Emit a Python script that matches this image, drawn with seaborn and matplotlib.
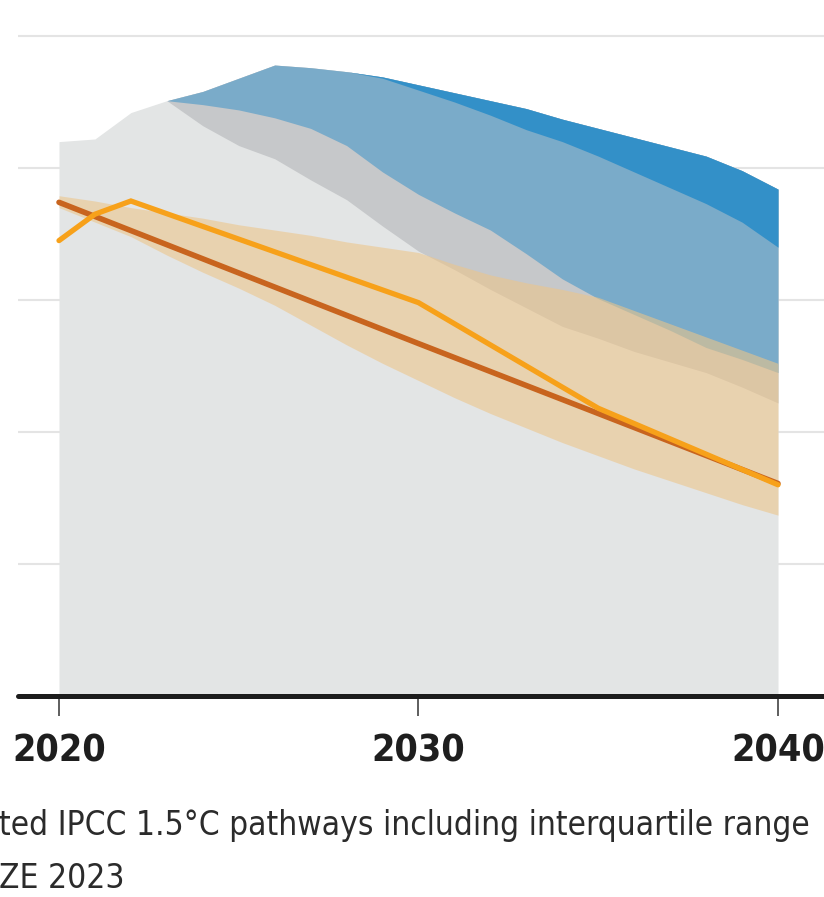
import matplotlib
matplotlib.use("Agg")
import matplotlib.pyplot as plt
from matplotlib import font_manager
from matplotlib.font_manager import FontProperties
import pandas as pd
import seaborn as sns

# --- data (GtCO2) ---------------------------------------------------------
years = list(range(2020, 2041))
envelope_top = [42.0, 42.2, 44.2, 45.1, 45.8, 46.8, 47.8, 47.6, 47.3, 46.9, 46.3,
                45.7, 45.1, 44.5, 43.7, 43.0, 42.3, 41.6, 40.9, 39.8, 38.4]

pathway_years = list(range(2023, 2041))
blue_low = [45.1, 44.8, 44.4, 43.8, 43.0, 41.7, 39.7, 38.0, 36.6, 35.3, 33.5,
            31.6, 30.1, 28.9, 27.7, 26.4, 25.5, 24.5]
gray_low = [45.1, 43.2, 41.7, 40.7, 39.1, 37.6, 35.6, 33.7, 32.3, 30.8, 29.4,
            28.0, 27.1, 26.1, 25.3, 24.5, 23.4, 22.2]

dark_years = list(range(2028, 2041))
dark_low = [47.3, 46.8, 45.9, 45.0, 44.0, 42.9, 42.0, 40.9, 39.7, 38.5, 37.3,
            35.9, 34.0]

iqr_top = [37.9, 37.5, 37.0, 36.6, 36.2, 35.7, 35.3, 34.9, 34.4, 34.0, 33.6,
           32.7, 31.9, 31.3, 30.8, 30.2, 29.2, 28.2, 27.2, 26.2, 25.2]
iqr_bottom = [37.0, 35.9, 34.8, 33.4, 32.1, 30.9, 29.6, 28.1, 26.6, 25.2, 23.9,
              22.6, 21.4, 20.3, 19.2, 18.2, 17.2, 16.3, 15.4, 14.5, 13.7]

median_years = [2020, 2030, 2040]
median_vals = [37.4, 26.7, 16.1]

nze_years = [2020, 2021, 2022, 2030, 2035, 2040]
nze_vals = [34.5, 36.5, 37.5, 29.8, 21.8, 16.0]

tick_years = [2020, 2030, 2040]
tick_labels = ["2020", "2030", "2040"]
grid_levels = [10, 20, 30, 40, 50]

caption_1 = "ted IPCC 1.5°C pathways including interquartile range"
caption_2 = "ZE 2023"

# --- style ----------------------------------------------------------------
sns.set_theme(style="white")
plt.rcParams["font.family"] = ["DejaVu Sans"]


def _weight(f):
    w = f.weight
    if isinstance(w, str):
        w = {"bold": 700, "normal": 400, "regular": 400, "light": 300,
             "medium": 500, "semibold": 600, "book": 400}.get(w.lower(), 400)
    return int(w)


def narrow_font(bold):
    """Pick a condensed sans file from the installed fonts."""
    best = None
    for f in font_manager.fontManager.ttflist:
        tag = (f.name + " " + str(f.stretch) + " " + f.fname).lower()
        if not ("narrow" in tag or "condensed" in tag):
            continue
        if f.style != "normal" or "mono" in tag or "serif" in tag.replace("sans", ""):
            continue
        w = _weight(f)
        if bold and w < 600:
            continue
        if not bold and (w < 300 or w > 450):
            continue
        score = abs(w - (700 if bold else 400))
        if "semicondensed" in tag or "semi" in tag:
            score += 50
        if best is None or score < best[0]:
            best = (score, f.fname)
    return best[1] if best else None


bold_file = narrow_font(True)
reg_file = narrow_font(False)
bold_fp = FontProperties(fname=bold_file) if bold_file else FontProperties(family="DejaVu Sans", weight="bold")
reg_fp = FontProperties(fname=reg_file) if reg_file else FontProperties(family="DejaVu Sans")

W, H = 824, 897
fig = plt.figure(figsize=(W / 100, H / 100), dpi=100)
left_px, base_px = 18, 696
ax = fig.add_axes([left_px / W, 1 - base_px / H, 1 - left_px / W, base_px / H])

px_per_year = 35.95
px_per_unit = 13.2
ax.set_xlim(2020 - (59 - left_px) / px_per_year, 2040 + (W - 778) / px_per_year)
ax.set_ylim(0, 50 + 36 / px_per_unit)

for lvl in grid_levels:
    ax.axhline(lvl, color="#e4e4e4", lw=1.5, zorder=0)

# stacked ranges
ax.fill_between(years, 0, envelope_top, color="#e3e5e5", lw=0, zorder=1)
ax.fill_between(pathway_years, gray_low, envelope_top[3:], color="#c6c8ca", lw=0, zorder=2)
ax.fill_between(pathway_years, blue_low, envelope_top[3:], color="#7aabc9", lw=0, zorder=3)
ax.fill_between(dark_years, dark_low, envelope_top[8:], color="#3390c8", lw=0, zorder=4)
ax.fill_between(years, iqr_bottom, iqr_top, color="#edc589", alpha=0.58, lw=0, zorder=5)

df_med = pd.DataFrame({"year": median_years, "value": median_vals})
df_nze = pd.DataFrame({"year": nze_years, "value": nze_vals})
sns.lineplot(data=df_med, x="year", y="value", ax=ax, color="#c8641e", lw=4.0,
             zorder=6, solid_joinstyle="miter")
sns.lineplot(data=df_nze, x="year", y="value", ax=ax, color="#f7a11a", lw=3.8,
             zorder=7, solid_joinstyle="miter")

ax.axhline(0, color="#1c1c1c", lw=3.6, zorder=8, clip_on=False)

for s in ax.spines.values():
    s.set_visible(False)
ax.set_yticks([])
ax.set_xticks(tick_years)
ax.set_xticklabels(tick_labels, color="#1e1e1e")
ax.tick_params(axis="x", bottom=True, length=14.4, width=1.1, color="#333333",
               pad=12.5, direction="out")
ax.set_xlabel("")
ax.set_ylabel("")

renderer = fig.canvas.get_renderer()

# size the year labels so "2020" spans about 94 px (max 33 pt)
probe = fig.text(0, 0, "2020", fontproperties=bold_fp.copy())
probe.set_fontsize(32)
wid = probe.get_window_extent(renderer).width
probe.remove()
tick_size = min(33, 32 * 94 / wid)
for lab in ax.get_xticklabels():
    lab.set_fontproperties(bold_fp.copy())
    lab.set_fontsize(tick_size)
    lab.set_color("#1e1e1e")

# caption lines, scaled so the first spans about 810 px (max 30 pt)
c1 = fig.text(-0.001, 1 - 835 / H, caption_1, fontproperties=reg_fp.copy(),
              color="#2b2b2b", va="baseline")
c1.set_fontsize(29)
wid = c1.get_window_extent(renderer).width
cap_size = min(30, 29 * 810 / wid)
c1.set_fontsize(cap_size)
c2 = fig.text(-0.001, 1 - 888 / H, caption_2, fontproperties=reg_fp.copy(),
              color="#2b2b2b", va="baseline")
c2.set_fontsize(cap_size)

fig.savefig("out.png", dpi=100)
